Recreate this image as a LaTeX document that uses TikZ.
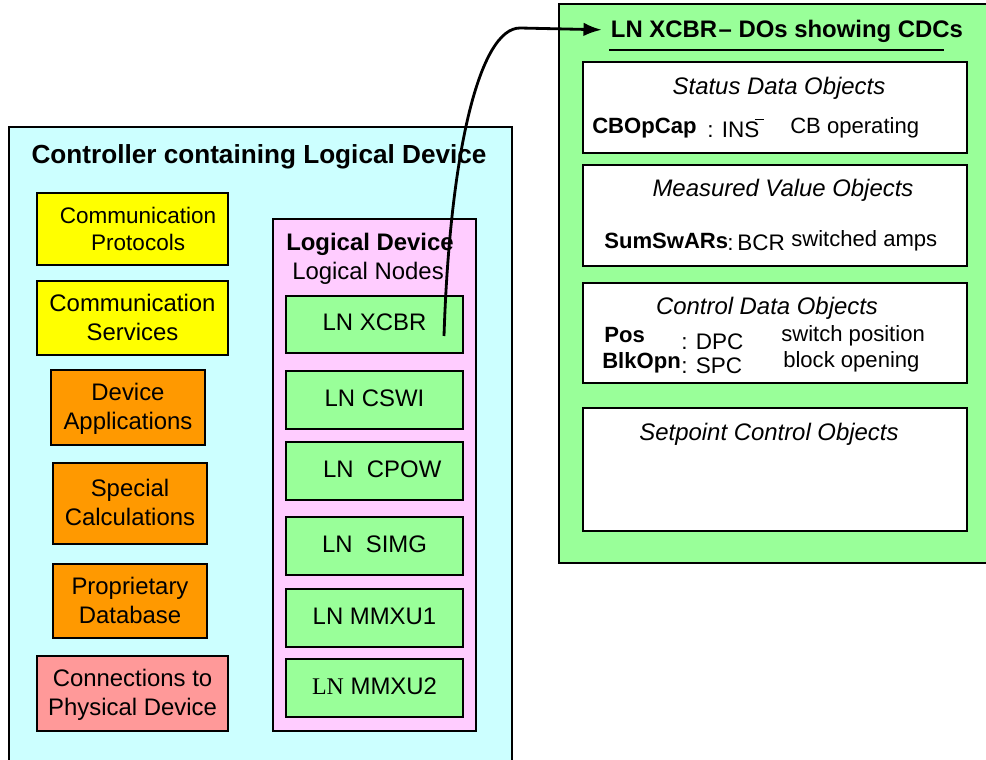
\documentclass[tikz,border=0pt]{standalone}
\usepackage{fontspec}
\setmainfont{Liberation Sans}
\newfontfamily\serifln{Liberation Serif}
\usetikzlibrary{arrows.meta,positioning}
\definecolor{CtrlCyan}{HTML}{CCFFFF}
\definecolor{LdPink}{HTML}{FFCCFF}
\definecolor{LnGreen}{HTML}{99FF99}
\definecolor{CommYellow}{HTML}{FFFF00}
\definecolor{AppOrange}{HTML}{FF9900}
\definecolor{PhysRed}{HTML}{FF9999}
\tikzset{
  % box from its corners, given in picture units
  span/.style n args={4}{minimum width={(#3-#1)*0.025cm}, minimum height={(#4-#2)*0.025cm},
                         at={({(#1+#3)/2},{(#2+#4)/2})}},
  frame/.style={draw=black, line width=0.8pt, inner sep=0pt},
  blk/.style={frame, font=\fontsize{17}{20.5}\selectfont, text height=9pt, text depth=0pt},
  twoline/.style={align=center, text height=31.5pt, text depth=0pt},
  commbox/.style={blk, twoline, fill=CommYellow},
  appbox/.style={blk, twoline, fill=AppOrange},
  physbox/.style={blk, twoline, fill=PhysRed},
  lnbox/.style={blk, fill=LnGreen},
  dobox/.style={frame, fill=white},
  dohead/.style={font=\fontsize{17}{20}\selectfont\itshape, inner sep=0pt},
  doname/.style={font=\fontsize{15.7}{18}\selectfont\bfseries, anchor=west, inner sep=0pt},
  docdc/.style={font=\fontsize{16}{18}\selectfont, anchor=west, inner sep=0pt},
  dotext/.style={font=\fontsize{15.7}{18}\selectfont, anchor=west, inner sep=0pt},
  link/.style={line width=2pt, -{Latex[length=4.6mm,width=3.4mm]}},
}

\begin{document}
\begin{tikzpicture}[x=0.025cm, y=-0.025cm]
\useasboundingbox (0,0) rectangle (986,760);
\clip (0,0) rectangle (986,760);
% ---------------------------------------------------------------- controller
\node[frame, fill=CtrlCyan, span={9}{127}{512}{790}] (controller) {};
\node[font=\fontsize{18.6}{22}\selectfont\bfseries, inner sep=0pt] (ctrl-title) at (259,157) {Controller containing Logical Device};
\node[commbox, span={37}{193}{228}{265}, font=\fontsize{16}{19.5}\selectfont, text height=30.5pt] (protocols) {\hspace*{8pt}Communication\\\hspace*{8pt}Protocols};
\node[commbox, span={37}{281}{228}{355}] (services) {Communication\\Services};
\node[appbox, span={51}{370}{205}{445}] (apps) {Device\\Applications};
\node[appbox, span={53}{463}{207}{544}] (calcs) {Special\\Calculations};
\node[appbox, span={53}{564}{207}{638}] (database) {Proprietary\\Database};
\node[physbox, span={37}{656}{228}{731}] (physical) {Connections to\\Physical Device};
% logical device with its logical nodes
\node[frame, fill=LdPink, span={273}{219}{476}{731}] (ld) {};
\node[font=\fontsize{17}{20}\selectfont\bfseries, anchor=west, inner sep=0pt] (ld-title) at (286,244) {Logical Device};
\node[font=\fontsize{17}{20}\selectfont, anchor=west, inner sep=0pt] (ld-nodes) at (292,273) {Logical Nodes};
\node[lnbox, span={286}{296}{463}{353}] (xcbr) {LN XCBR};
\node[lnbox, span={286}{371}{463}{429}] (cswi) {LN CSWI\hspace{9pt}};
\node[lnbox, span={286}{442}{463}{500}] (cpow) {\hspace{11pt}LN\ \ CPOW};
\node[lnbox, span={286}{517}{463}{575}] (simg) {LN\ \ SIMG\hspace{5pt}};
\node[lnbox, span={286}{589}{463}{647}] (mmxu1) {LN MMXU1};
\node[lnbox, span={286}{659}{463}{717}] (mmxu2) {{\serifln LN} MMXU2};
% ---------------------------------------------------------------- XCBR data objects
\node[frame, fill=LnGreen, span={559}{4}{1010}{563}] (dos) {};
\node[font=\fontsize{17}{20}\selectfont\bfseries, inner sep=0pt] (dos-title) at (787,31) {LN XCBR\kern1pt--\ DOs showing CDCs};
\draw[line width=2pt] (609,50) -- (944,50);
\node[dobox, span={583}{62}{967}{153}] (status) {};
\node[dohead] (status-head) at (779,88) {Status Data Objects};
\node[doname] (cbopcap) at (592,128) {CBOpCap};
\node[docdc] (cbopcap-cdc) at (707,128) {: INS\rlap{\kern-0.2em\raisebox{0.78em}{\rule{0.42em}{0.6pt}}}};
\node[dotext] (cbopcap-txt) at (790,128) {CB operating};
\node[dobox, span={583}{165}{967}{266}] (measured) {};
\node[dohead] (measured-head) at (783,190) {Measured Value Objects};
\node[doname] (sumswars) at (604,241) {SumSwARs};
\node[docdc] (sumswars-cdc) at (727,243) {:\,BCR};
\node[dotext] (sumswars-txt) at (791,241) {switched amps};
\node[dobox, span={583}{283}{967}{383}] (control) {};
\node[dohead] (control-head) at (767,308) {Control Data Objects};
\node[doname] (pos) at (604,335) {Pos};
\node[docdc] (pos-cdc) at (681,342) {: DPC};
\node[dotext] (pos-txt) at (781,336) {switch position};
\node[doname] (blkopn) at (602,363) {BlkOpn};
\node[docdc] (blkopn-cdc) at (681,366) {: SPC};
\node[dotext] (blkopn-txt) at (783,362) {block opening};
\node[dobox, span={583}{408}{967}{531}] (setpoint) {};
\node[dohead] (setpoint-head) at (769,434) {Setpoint Control Objects};
% link from the XCBR node out to its data objects
\coordinate (xcbr-tap) at (444,336);
\coordinate (link-bend) at (520,28);
\draw[link] (xcbr-tap) .. controls (450,150) and (480,28) .. (link-bend) -- ([xshift=-0.22cm, yshift=0.03cm]dos-title.west);
\end{tikzpicture}
\end{document}
